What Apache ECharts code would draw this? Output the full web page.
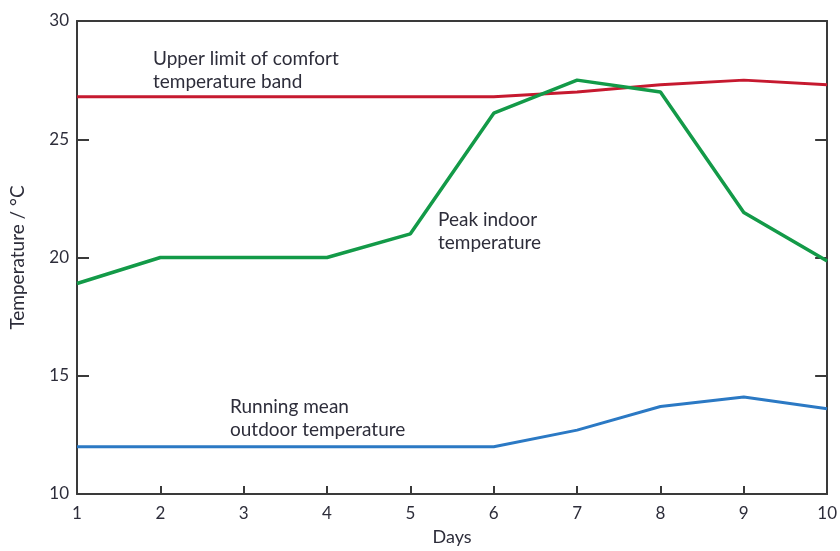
<!DOCTYPE html>
<html>
<head>
<meta charset="utf-8">
<script src="https://cdn.jsdelivr.net/npm/echarts@6/dist/echarts.min.js"></script>
<style>
  html, body { margin: 0; padding: 0; background: #fff; }
  #chart { width: 840px; height: 551px; }
</style>
</head>
<body>
<div id="chart"></div>
<script>
// Days of the monitoring period
const days = [1, 2, 3, 4, 5, 6, 7, 8, 9, 10];
// Upper limit of the comfort temperature band (°C)
const comfortUpper = [26.8, 26.8, 26.8, 26.8, 26.8, 26.8, 27.0, 27.3, 27.5, 27.3];
// Peak indoor temperature (°C)
const peakIndoor = [18.9, 20.0, 20.0, 20.0, 21.0, 26.1, 27.5, 27.0, 21.9, 19.85];
// Running mean outdoor temperature (°C)
const runningMeanOutdoor = [12.0, 12.0, 12.0, 12.0, 12.0, 12.0, 12.7, 13.7, 14.1, 13.6];

const FONT = 'Lato';
const TEXT = '#2d2d3a';
const AXIS = '#3a3a3a';

const pairs = vals => days.map((d, i) => [d, vals[i]]);

const chart = echarts.init(document.getElementById('chart'), null, { renderer: 'canvas' });

const annotation = (left, top, text) => ({
  type: 'text', left, top,
  style: { text, font: '19px ' + FONT, fill: TEXT, lineHeight: 23 }
});

chart.setOption({
  animation: false,
  grid: { left: 77, top: 21, right: 8, bottom: 54, show: false },
  xAxis: [{
    type: 'value', min: 1, max: 10, interval: 1,
    name: 'Days', nameLocation: 'middle', nameGap: 34,
    nameTextStyle: { fontFamily: FONT, fontSize: 18, color: TEXT },
    axisLine: { show: true, onZero: false, lineStyle: { color: AXIS, width: 2 } },
    axisTick: { show: true, inside: true, length: 8, lineStyle: { color: AXIS, width: 2 } },
    axisLabel: { fontFamily: FONT, fontSize: 17, color: TEXT, margin: 11 },
    splitLine: { show: false }
  }, {
    type: 'value', min: 1, max: 10, interval: 1, position: 'top',
    axisLine: { show: true, onZero: false, lineStyle: { color: AXIS, width: 2 } },
    axisTick: { show: false }, axisLabel: { show: false }, splitLine: { show: false }
  }],
  yAxis: [{
    type: 'value', min: 10, max: 30, interval: 5,
    name: 'Temperature / °C', nameLocation: 'middle', nameGap: 50,
    nameTextStyle: { fontFamily: FONT, fontSize: 19, color: TEXT },
    axisLine: { show: true, onZero: false, lineStyle: { color: AXIS, width: 2 } },
    axisTick: { show: true, inside: true, length: 12, lineStyle: { color: AXIS, width: 2 } },
    axisLabel: { fontFamily: FONT, fontSize: 17, color: TEXT, margin: 8 },
    splitLine: { show: false }
  }, {
    type: 'value', min: 10, max: 30, interval: 5, position: 'right',
    axisLine: { show: true, onZero: false, lineStyle: { color: AXIS, width: 2 } },
    axisTick: { show: true, inside: true, length: 12, lineStyle: { color: AXIS, width: 2 } },
    axisLabel: { show: false }, splitLine: { show: false }
  }],
  series: [{
    name: 'Upper limit of comfort temperature band', type: 'line',
    data: pairs(comfortUpper), showSymbol: false,
    lineStyle: { color: '#c6192f', width: 3 }
  }, {
    name: 'Peak indoor temperature', type: 'line',
    data: pairs(peakIndoor), showSymbol: false,
    lineStyle: { color: '#139a48', width: 3.5 }
  }, {
    name: 'Running mean outdoor temperature', type: 'line',
    data: pairs(runningMeanOutdoor), showSymbol: false,
    lineStyle: { color: '#2b79c4', width: 3 }
  }],
  graphic: [
    annotation(153, 47, 'Upper limit of comfort\ntemperature band'),
    annotation(438, 208, 'Peak indoor\ntemperature'),
    annotation(230, 395, 'Running mean\noutdoor temperature')
  ]
});
</script>
</body>
</html>
